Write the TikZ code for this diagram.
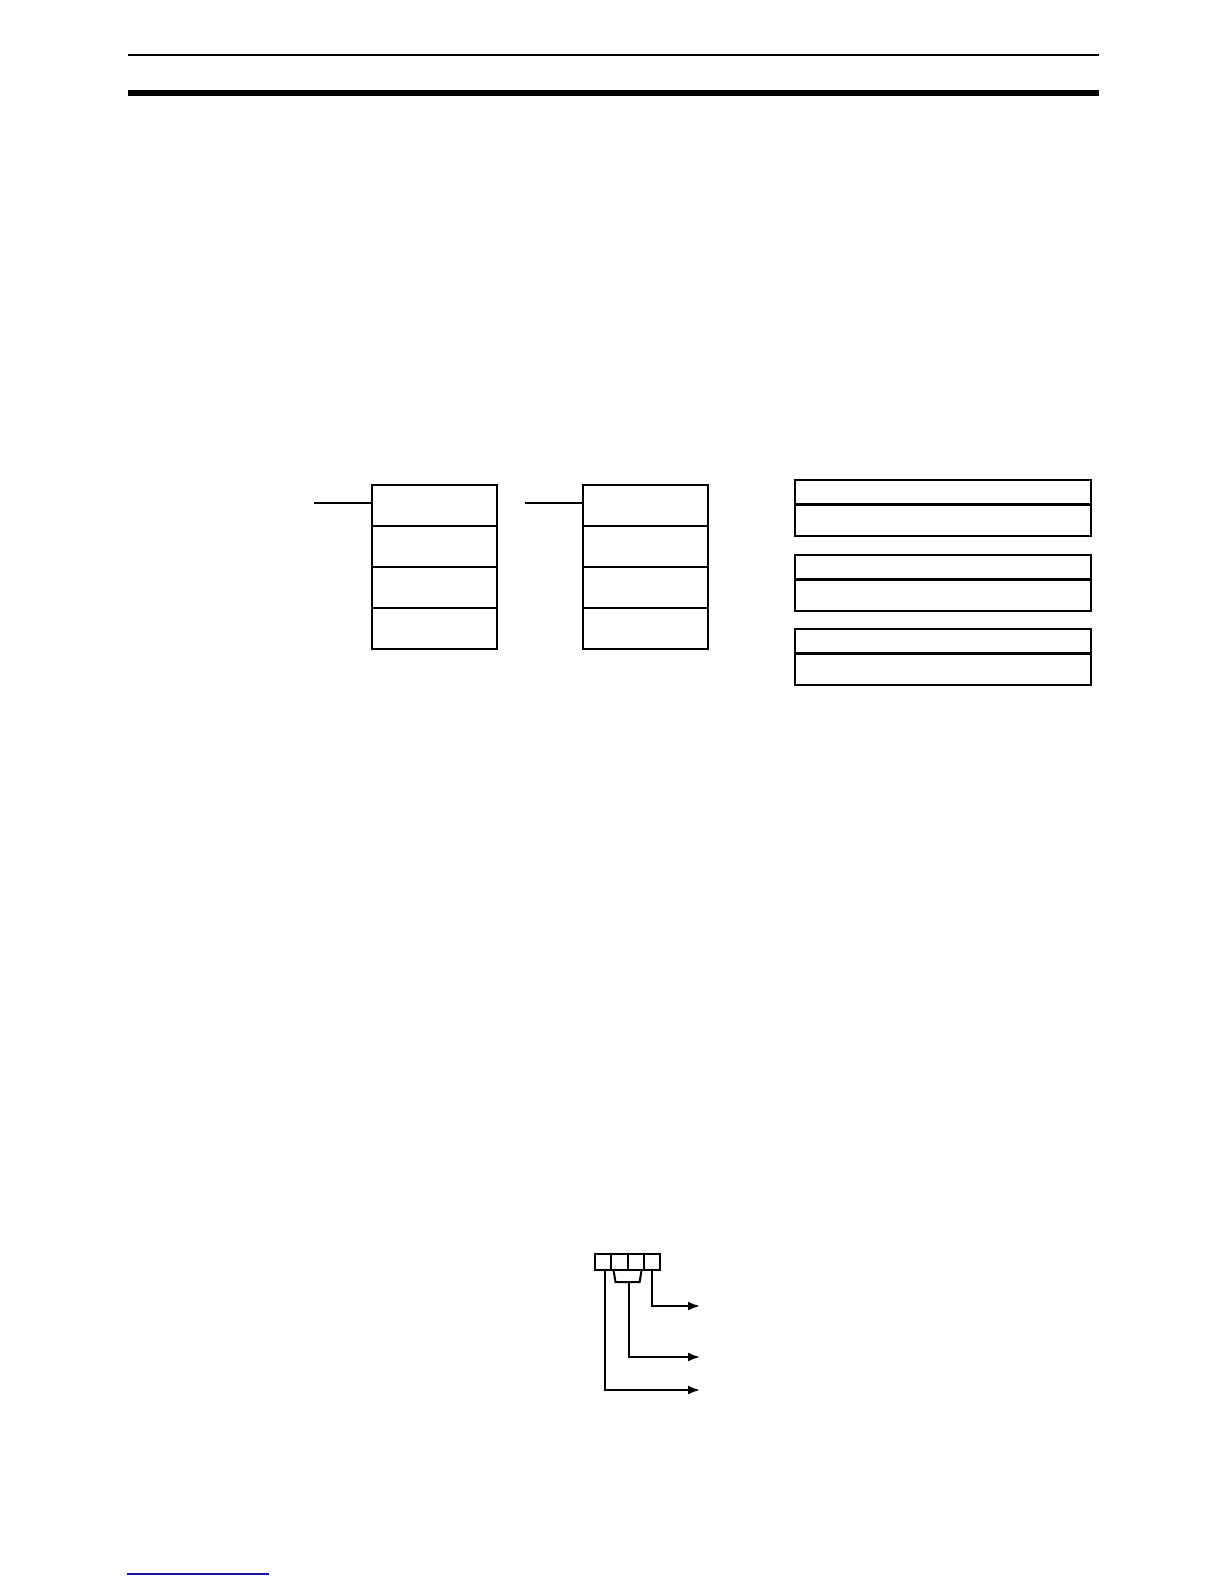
\documentclass[tikz,border=0pt]{standalone}
\usetikzlibrary{arrows.meta,calc}
\definecolor{linkblue}{RGB}{20,20,170}
\begin{document}
\begin{tikzpicture}[x=0.5pt,y=-0.5pt,
  ln/.style={line width=1pt,black},
  cellA/.style={draw,line width=1pt,rectangle,inner sep=0pt,outer sep=0pt,minimum width=62.5pt,minimum height=20.5pt},
  wideTop/.style={draw,line width=1pt,rectangle,inner sep=0pt,outer sep=0pt,minimum width=148pt,minimum height=12.25pt},
  wideBot/.style={draw,line width=1pt,rectangle,inner sep=0pt,outer sep=0pt,minimum width=148pt,minimum height=15.75pt},
  reg/.style={draw,line width=1pt,rectangle,inner sep=0pt,outer sep=0pt,minimum width=8.05pt,minimum height=8.15pt},
  arr/.style={ln,-{Latex[length=6pt,width=4.5pt]}}]
\useasboundingbox[fill=white] (0,0) rectangle (1224,1584);
% header rules
\coordinate (h1a) at (128,55);
\coordinate (h1b) at (1099,55);
\draw[line width=1pt] (h1a) -- (h1b);
\coordinate (h2a) at (128,93);
\coordinate (h2b) at (1099,93);
\draw[line width=3pt] (h2a) -- (h2b);
% first block
\node[cellA] (a1) at (434.5,505.5) {};
\node[cellA] (a2) at (434.5,546.5) {};
\node[cellA] (a3) at (434.5,587.5) {};
\node[cellA] (a4) at (434.5,628.5) {};
\coordinate (ina) at (314,502.7);
\draw[ln] (ina) -- (ina -| a1.west);
% second block
\node[cellA] (b1) at (645,505.5) {};
\node[cellA] (b2) at (645,546.5) {};
\node[cellA] (b3) at (645,587.5) {};
\node[cellA] (b4) at (645,628.5) {};
\coordinate (inb) at (525.3,502.7);
\draw[ln] (inb) -- (inb -| b1.west);
% right boxes
\node[wideTop] (c1) at (943,492.25) {};
\node[wideBot] (c2) at (943,520) {};
\node[wideTop] (d1) at (943,567.25) {};
\node[wideBot] (d2) at (943,595) {};
\node[wideTop] (e1) at (943,641.25) {};
\node[wideBot] (e2) at (943,669) {};
% register
\node[reg] (r1) at (603.4,1262) {};
\node[reg] (r2) at (619.5,1262) {};
\node[reg] (r3) at (635.6,1262) {};
\node[reg] (r4) at (651.7,1262) {};
\coordinate (o1) at (700,1306);
\coordinate (o2) at (700,1357);
\coordinate (o3) at (700,1390);
\coordinate (br) at (628.5,1282);
\draw[ln] ([xshift=-3pt]r2.south) -- ([xshift=-2pt]r2.south |- br) -- ([xshift=2pt]r3.south |- br) -- ([xshift=3pt]r3.south);
\draw[arr] (br) |- (o2);
\draw[arr] (r4.south) |- (o1);
\draw[arr] ([xshift=0.8pt]r1.south) |- (o3);
% footer link line
\coordinate (f1) at (127,1574);
\coordinate (f2) at (269,1574);
\draw[linkblue,line width=0.9pt] (f1) -- (f2);
\end{tikzpicture}
\end{document}
